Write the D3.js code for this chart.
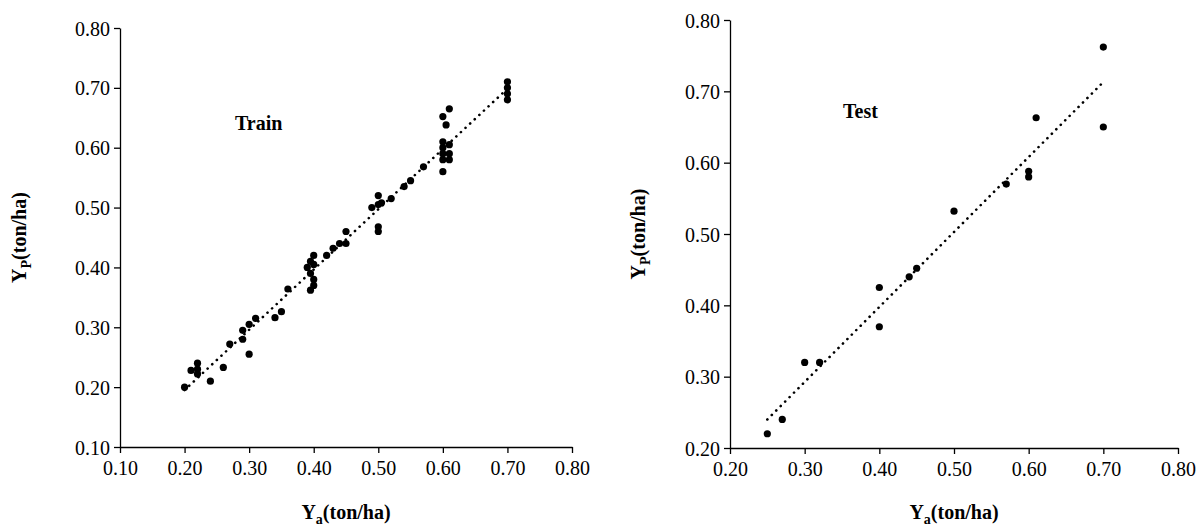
<!DOCTYPE html>
<html>
<head>
<meta charset="utf-8" />
<script src="https://d3js.org/d3.v7.min.js"></script>
<style>
    body { margin: 0; background: #fff; }
    svg text { font-family: "Liberation Serif", "Times New Roman", serif !important; }
</style>
</head>
<body>
<svg id="chart" width="1203" height="531"></svg>
<script>
    const trainActual = [0.20,0.21,0.22,0.22,0.22,0.24,0.26,0.27,0.29,0.29,0.30,0.30,0.31,0.34,0.35,0.36,
        0.39,0.395,0.40,0.395,0.40,0.40,0.395,0.40,0.42,0.43,0.44,0.45,0.45,0.49,0.50,0.50,0.505,0.50,0.50,
        0.52,0.54,0.55,0.57,0.60,0.60,0.60,0.60,0.61,0.61,0.61,0.60,0.60,0.605,0.61,0.70,0.70,0.70,0.70];
    const trainPred = [0.200,0.228,0.240,0.222,0.230,0.210,0.233,0.272,0.280,0.295,0.305,0.255,0.315,0.316,0.326,0.364,
        0.400,0.410,0.420,0.390,0.380,0.370,0.362,0.405,0.420,0.432,0.440,0.460,0.440,0.500,0.520,0.505,0.508,0.460,0.468,
        0.515,0.535,0.545,0.568,0.610,0.600,0.590,0.580,0.605,0.590,0.580,0.560,0.652,0.638,0.665,0.710,0.700,0.690,0.680];
    const testActual = [0.25,0.27,0.30,0.32,0.40,0.40,0.44,0.45,0.50,0.57,0.60,0.60,0.61,0.70,0.70];
    const testPred = [0.220,0.240,0.320,0.320,0.425,0.370,0.440,0.452,0.532,0.570,0.588,0.580,0.663,0.762,0.650];
    const trainTicksX = [0.1,0.2,0.3,0.4,0.5,0.6,0.7,0.8];
    const trainTicksY = [0.1,0.2,0.3,0.4,0.5,0.6,0.7,0.8];
    const testTicksX = [0.2,0.3,0.4,0.5,0.6,0.7,0.8];
    const testTicksY = [0.2,0.3,0.4,0.5,0.6,0.7,0.8];

    const svg = d3.select("#chart");

    function panel(opt) {
        const x = d3.scaleLinear().domain(opt.xd).range([opt.left, opt.right]);
        const y = d3.scaleLinear().domain(opt.yd).range([opt.bottom, opt.top]);
        const g = svg.append("g");

        const xa = g.append("g").attr("transform", `translate(0,${opt.bottom})`)
            .call(d3.axisBottom(x).tickValues(opt.tx).tickFormat(d3.format(".2f")).tickSize(6).tickSizeOuter(0));
        const ya = g.append("g").attr("transform", `translate(${opt.left},0)`)
            .call(d3.axisLeft(y).tickValues(opt.ty).tickFormat(d3.format(".2f")).tickSize(6).tickSizeOuter(0));
        [xa, ya].forEach(a => {
            a.selectAll("path,line").attr("stroke", "#000").attr("stroke-width", 1.3);
            a.selectAll("text").attr("font-size", 20).attr("fill", "#000");
        });
        xa.selectAll("text").attr("y", 12).attr("dy", "0.8em");
        ya.selectAll("text").attr("x", -10).attr("dy", "0.35em");

        // least-squares trend line
        const xs = opt.xs, ys = opt.ys;
        const mx = d3.mean(xs), my = d3.mean(ys);
        const b = d3.sum(xs, (v, i) => (v - mx) * (ys[i] - my)) / d3.sum(xs, v => (v - mx) ** 2);
        const a = my - b * mx;
        const [x0, x1] = d3.extent(xs);
        g.append("line")
            .attr("x1", x(x0)).attr("y1", y(a + b * x0))
            .attr("x2", x(x1)).attr("y2", y(a + b * x1))
            .attr("stroke", "#000").attr("stroke-width", 2.6)
            .attr("stroke-dasharray", "0.1 6.2").attr("stroke-linecap", "round");

        g.selectAll("circle.pt").data(xs).join("circle")
            .attr("cx", d => x(d)).attr("cy", (d, i) => y(ys[i])).attr("r", 3.6).attr("fill", "#000");

        g.append("text").attr("x", opt.labelX).attr("y", opt.labelY)
            .attr("font-size", 20).attr("font-weight", "bold").text(opt.label);

        // axis titles with subscripts
        const xt = g.append("text").attr("x", (opt.left + opt.right) / 2).attr("y", 519)
            .attr("text-anchor", "middle").attr("font-size", 20).attr("font-weight", "bold");
        xt.append("tspan").text("Y");
        xt.append("tspan").attr("font-size", 14).attr("dy", 5).text("a");
        xt.append("tspan").attr("dy", -5).text("(ton/ha)");

        const yt = g.append("text").attr("transform", `translate(${opt.yTitleX},${(opt.top + opt.bottom) / 2}) rotate(-90)`)
            .attr("text-anchor", "middle").attr("font-size", 20).attr("font-weight", "bold");
        yt.append("tspan").text("Y");
        yt.append("tspan").attr("font-size", 14).attr("dy", 5).text("P");
        yt.append("tspan").attr("dy", -5).text("(ton/ha)");
    }

    panel({ xd: [0.1, 0.8], yd: [0.1, 0.8], left: 120, right: 572, top: 28, bottom: 447,
        tx: trainTicksX, ty: trainTicksY, xs: trainActual, ys: trainPred,
        label: "Train", labelX: 235, labelY: 130, yTitleX: 26 });
    panel({ xd: [0.2, 0.8], yd: [0.2, 0.8], left: 730, right: 1178, top: 20, bottom: 448,
        tx: testTicksX, ty: testTicksY, xs: testActual, ys: testPred,
        label: "Test", labelX: 843, labelY: 118, yTitleX: 645 });
</script>
</body>
</html>
